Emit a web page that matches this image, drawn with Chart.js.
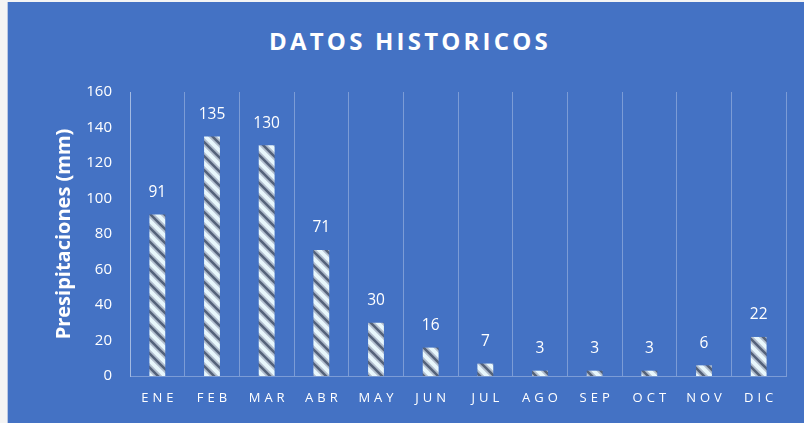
<!DOCTYPE html>
<html>
<head>
<meta charset="utf-8">
<script src="https://cdn.jsdelivr.net/npm/chart.js@4/dist/chart.umd.min.js"></script>
<style>
  html, body { margin: 0; padding: 0; background: #f4f4f4; }
  #frame {
    position: absolute; left: 7px; top: 2px; width: 797px; height: 421px;
    background: #4472c4; border-left: 1px solid #b9c7e3; box-sizing: border-box;
  }
  #title {
    position: absolute; left: 8px; right: 0; top: 22px; text-align: center;
    font: bold 24px "Open Sans", sans-serif; letter-spacing: 3.2px; color: #ffffff;
  }
  canvas { position: absolute; left: 0; top: 0; }
</style>
</head>
<body>
<div id="frame">
  <div id="title">DATOS HISTORICOS</div>
  <canvas id="chart" width="796" height="421"></canvas>
</div>
<script>
// ---- data ----
const months = ['ENE', 'FEB', 'MAR', 'ABR', 'MAY', 'JUN', 'JUL', 'AGO', 'SEP', 'OCT', 'NOV', 'DIC'];
const rainfall = [91, 135, 130, 71, 30, 16, 7, 3, 3, 3, 6, 22];
const yTicks = [0, 20, 40, 60, 80, 100, 120, 140, 160];

// diagonal stripe fill like the Excel pattern
function stripePattern() {
  const n = 14;
  const c = document.createElement('canvas');
  c.width = n; c.height = n;
  const g = c.getContext('2d');
  g.fillStyle = '#e8f7fc';
  g.fillRect(0, 0, n, n);
  const stripe = (w, col) => {
    g.strokeStyle = col;
    g.lineWidth = w;
    g.beginPath();
    for (let k = -1; k <= 1; k++) {
      g.moveTo(-3 + k * n, -3); g.lineTo(n + 3 + k * n, n + 3);
    }
    g.stroke();
  };
  stripe(6, '#b3bfcf');
  stripe(2.6, '#55637a');
  return g.createPattern(c, 'repeat');
}

const ctx = document.getElementById('chart').getContext('2d');

// spaced-out category labels
const spacedLabels = {
  id: 'spacedLabels',
  beforeDraw(chart) {
    const x = chart.scales.x;
    if (x && !x._spaced) {
      const orig = x.drawLabels.bind(x);
      x.drawLabels = (area) => {
        chart.ctx.save();
        chart.ctx.letterSpacing = '4px';
        chart.ctx.translate(2, 0);
        orig(area);
        chart.ctx.restore();
      };
      x._spaced = true;
    }
  }
};

// value labels above bars
const valueLabels = {
  id: 'valueLabels',
  afterDatasetsDraw(chart) {
    const c = chart.ctx;
    const meta = chart.getDatasetMeta(0);
    c.save();
    c.fillStyle = '#ffffff';
    c.font = '15.5px "Open Sans", sans-serif';
    c.textAlign = 'center';
    c.textBaseline = 'middle';
    meta.data.forEach((bar, i) => {
      c.fillText(String(rainfall[i]), bar.x, bar.y - 22);
    });
    c.restore();
  }
};

new Chart(ctx, {
  type: 'bar',
  data: {
    labels: months,
    datasets: [{
      data: rainfall,
      backgroundColor: stripePattern(),
      borderWidth: 0,
      barPercentage: 0.29,
      categoryPercentage: 1
    }]
  },
  options: {
    responsive: false,
    animation: false,
    layout: { padding: { top: 90, right: 18, left: 44, bottom: 0 } },
    plugins: {
      legend: { display: false },
      tooltip: { enabled: false }
    },
    scales: {
      x: {
        grid: { display: true, color: 'rgba(255,255,255,0.3)', lineWidth: 1, drawTicks: false, offset: true },
        border: { display: true, color: 'rgba(255,255,255,0.3)' },
        ticks: { color: '#ffffff', font: { family: '"Open Sans", sans-serif', size: 13 }, padding: 14, maxRotation: 0 },
        afterFit: (s) => { s.height = 47; }
      },
      y: {
        min: 0,
        max: 160,
        afterBuildTicks: (s) => { s.ticks = yTicks.map(v => ({ value: v })); },
        grid: { display: false },
        border: { display: true, color: 'rgba(255,255,255,0.3)' },
        ticks: { color: '#ffffff', font: { family: '"Open Sans", sans-serif', size: 15 }, padding: 10 },
        title: {
          display: true,
          text: 'Presipitaciones (mm)',
          color: '#ffffff',
          font: { family: '"Open Sans", sans-serif', size: 20, weight: 'bold' },
          padding: { top: 0, bottom: 6 }
        },
        afterFit: (s) => { s.width = 78; }
      }
    }
  },
  plugins: [spacedLabels, valueLabels]
});
</script>
</body>
</html>
